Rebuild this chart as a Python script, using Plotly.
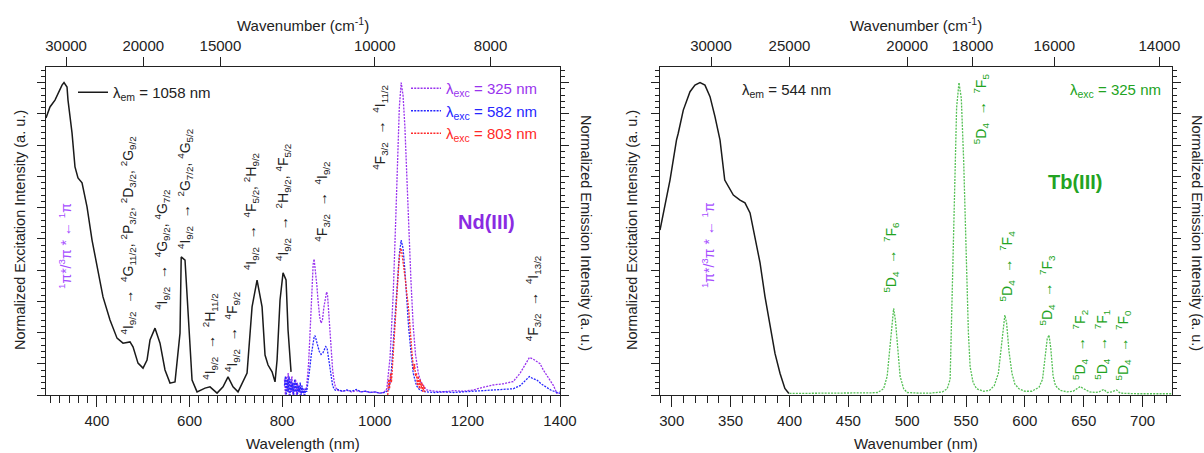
import plotly.graph_objects as go

# ---- Nd(III) panel data ----
nd_exc_nm = [290, 298.6, 309.4, 316, 324.6, 328.9, 335.4, 337.5, 341.8, 346.2, 352.6, 359.1, 367.8, 378.6,
             389.4, 400.2, 413.1, 428.2, 443.4, 456.3, 471.4, 477.9, 488.7, 499.5, 508.2, 514.6, 525.4, 536.2,
             547, 557.8, 568.6, 579.4, 582, 590.2, 596.7, 605.4, 616.2, 633.4, 644.2, 659.4, 672.3, 683.1,
             693.9, 704.7, 724.2, 735, 745.8, 756.6, 763, 769.5, 778.2, 784.6, 789, 795.4, 801.9, 808.4,
             812.7, 817, 819.2]
nd_exc_int = [0.887, 0.922, 0.944, 0.967, 0.992, 1.0, 0.986, 0.944, 0.890, 0.839, 0.730, 0.695, 0.679, 0.602,
              0.496, 0.410, 0.314, 0.240, 0.182, 0.166, 0.170, 0.154, 0.102, 0.086, 0.112, 0.176, 0.214, 0.166,
              0.080, 0.038, 0.042, 0.198, 0.442, 0.432, 0.250, 0.048, 0.010, 0.022, 0.026, 0.006, 0.026, 0.058,
              0.026, 0.010, 0.070, 0.282, 0.368, 0.282, 0.128, 0.096, 0.074, 0.042, 0.112, 0.304, 0.391, 0.368,
              0.208, 0.096, 0.074]

nd_em325_nm = [805, 807, 809, 811, 813, 815, 817, 819, 821, 823, 825, 827, 829, 831, 833, 835, 837, 839, 841,
               843, 845, 847, 849, 851, 853, 855, 857, 859, 861, 863, 865, 867, 869, 871, 873, 875, 877, 879,
               881, 884, 887, 890, 893, 896, 898, 900, 903, 906, 909, 912, 915, 920, 930, 940, 950, 960, 970,
               980, 990, 1000, 1010, 1020, 1026, 1033, 1040, 1045, 1049, 1053, 1057, 1061, 1065, 1069, 1073,
               1078, 1083, 1088, 1094, 1100, 1112, 1130, 1150, 1170, 1190, 1212, 1235, 1255, 1278, 1299, 1314,
               1325, 1334, 1342, 1350, 1357, 1364, 1371, 1379, 1386, 1393, 1400]
nd_em325_int = [0.05, 0.0, 0.06, 0.01, 0.07, 0.0, 0.05, 0.01, 0.06, 0.0, 0.04, 0.01, 0.05, 0.0, 0.04, 0.01,
                0.03, 0.0, 0.03, 0.005, 0.02, 0.0, 0.02, 0.01, 0.03, 0.06, 0.10, 0.16, 0.24, 0.32, 0.39, 0.42,
                0.435, 0.41, 0.38, 0.35, 0.31, 0.28, 0.25, 0.23, 0.24, 0.28, 0.31, 0.33, 0.32, 0.27, 0.20, 0.14,
                0.08, 0.045, 0.025, 0.015, 0.012, 0.015, 0.01, 0.014, 0.01, 0.012, 0.008, 0.01, 0.006, 0.008,
                0.02, 0.12, 0.33, 0.55, 0.75, 0.92, 1.0, 0.96, 0.86, 0.70, 0.54, 0.37, 0.22, 0.13, 0.07, 0.04,
                0.016, 0.012, 0.01, 0.014, 0.012, 0.016, 0.025, 0.032, 0.036, 0.043, 0.07, 0.10, 0.12, 0.115,
                0.107, 0.10, 0.08, 0.065, 0.048, 0.03, 0.006, 0.01]

nd_em582_nm = [805, 807, 809, 811, 813, 815, 817, 819, 821, 823, 825, 827, 829, 831, 833, 835, 837, 839, 841,
               843, 845, 847, 849, 851, 853, 855, 857, 860, 863, 866, 869, 871, 874, 877, 880, 884, 888, 891,
               894, 897, 900, 903, 906, 909, 912, 915, 920, 930, 940, 950, 960, 970, 980, 990, 1000, 1010, 1020,
               1030, 1035, 1040, 1045, 1049, 1053, 1057, 1061, 1065, 1069, 1073, 1078, 1083, 1090, 1097, 1110,
               1130, 1150, 1170, 1190, 1212, 1235, 1255, 1278, 1299, 1314, 1325, 1334, 1342, 1350, 1360, 1370,
               1380, 1390, 1400]
nd_em582_int = [0.03, 0.06, 0.0, 0.05, 0.01, 0.06, 0.0, 0.05, 0.01, 0.04, 0.0, 0.05, 0.01, 0.04, 0.0, 0.03,
                0.01, 0.04, 0.0, 0.03, 0.005, 0.02, 0.0, 0.02, 0.01, 0.03, 0.05, 0.09, 0.13, 0.16, 0.185, 0.19,
                0.17, 0.15, 0.14, 0.13, 0.135, 0.145, 0.155, 0.15, 0.12, 0.08, 0.05, 0.03, 0.02, 0.015, 0.018,
                0.012, 0.016, 0.012, 0.018, 0.01, 0.012, 0.008, 0.01, 0.006, 0.008, 0.015, 0.06, 0.165, 0.29,
                0.38, 0.45, 0.496, 0.47, 0.40, 0.30, 0.219, 0.14, 0.07, 0.03, 0.016, 0.01, 0.008, 0.01, 0.008,
                0.01, 0.012, 0.015, 0.016, 0.018, 0.02, 0.03, 0.045, 0.059, 0.052, 0.048, 0.035, 0.025, 0.016,
                0.01, 0.005]

nd_em803_nm = [1028, 1030, 1032, 1034, 1036, 1038, 1040, 1042, 1044, 1046, 1048, 1050, 1052, 1054, 1056, 1058,
               1060, 1062, 1064, 1066, 1068, 1070, 1072, 1074, 1076, 1078, 1080, 1082, 1084, 1086, 1088, 1090,
               1092, 1094, 1096, 1098, 1100, 1102, 1104, 1106, 1108]
nd_em803_int = [0.0, 0.05, 0.02, 0.07, 0.04, 0.09, 0.12, 0.18, 0.22, 0.27, 0.33, 0.38, 0.42, 0.45, 0.47, 0.46,
                0.44, 0.41, 0.39, 0.37, 0.34, 0.32, 0.29, 0.26, 0.21, 0.17, 0.14, 0.11, 0.08, 0.10, 0.06, 0.07,
                0.03, 0.06, 0.02, 0.05, 0.02, 0.04, 0.01, 0.03, 0.01]

# ---- Tb(III) panel data ----
tb_exc_nm = [290, 294, 298.5, 304, 305.5, 309.8, 315.5, 319.7, 324, 328.2, 332.5, 336.7, 341, 345, 348, 352.3,
             358, 362.2, 366.5, 370.7, 375, 379.2, 383.5, 387.7, 392, 396.1, 399.5]
tb_exc_int = [0.528, 0.603, 0.688, 0.816, 0.838, 0.912, 0.971, 0.992, 1.0, 0.992, 0.955, 0.891, 0.816, 0.688,
              0.667, 0.640, 0.624, 0.615, 0.583, 0.507, 0.423, 0.315, 0.219, 0.133, 0.069, 0.021, 0.005]

tb_em_nm = [400, 420, 440, 460, 470, 475, 480, 483, 485, 487, 488.5, 490, 492, 494, 497, 500, 510, 520, 530,
            534, 536.5, 539, 540.5, 542, 544, 546, 548, 549, 550.5, 552, 553.5, 556, 559, 565, 570, 574, 577.5,
            580, 582, 583, 584.5, 586.5, 589, 591.5, 595, 600, 606, 612, 615, 617.5, 619, 620.5, 622, 624,
            626, 630, 636, 641, 644, 647, 650, 655, 660, 663, 667, 670, 674, 678, 681, 686, 695, 710, 725]
tb_em_int = [0.005, 0.005, 0.006, 0.006, 0.007, 0.008, 0.02, 0.06, 0.14, 0.24, 0.277, 0.24, 0.14, 0.06, 0.02,
             0.008, 0.006, 0.006, 0.01, 0.02, 0.05, 0.475, 0.69, 0.92, 1.0, 0.95, 0.75, 0.62, 0.42, 0.2, 0.09,
             0.04, 0.02, 0.012, 0.015, 0.03, 0.07, 0.16, 0.24, 0.256, 0.23, 0.14, 0.07, 0.035, 0.02, 0.012,
             0.012, 0.025, 0.05, 0.12, 0.18, 0.192, 0.15, 0.06, 0.03, 0.015, 0.01, 0.012, 0.02, 0.027, 0.02,
             0.01, 0.008, 0.01, 0.018, 0.008, 0.01, 0.016, 0.006, 0.005, 0.004, 0.004, 0.004]

nd_top_wn = [30000, 20000, 15000, 10000, 8000]
tb_top_wn = [30000, 25000, 20000, 18000, 16000, 14000]

PURPLE = "#9933ee"
BLUE = "#2626ff"
RED = "#ff2a2a"
GREEN_TXT = "#22a322"
GREEN_LINE = "#55c055"
FONT = "Liberation Sans, Arial, sans-serif"
W, H = 1204, 453


def px(x):
    return x / W


def py(y):
    return 1 - y / H


fig = go.Figure()
dot = "2px,1.2px"

fig.add_trace(go.Scatter(x=nd_exc_nm, y=nd_exc_int, mode="lines", line=dict(color="#1a1a1a", width=1.5),
                         name="λ<sub>em</sub> = 1058 nm", legend="legend", xaxis="x", yaxis="y"))
fig.add_trace(go.Scatter(x=nd_em325_nm, y=nd_em325_int, mode="lines", line=dict(color=PURPLE, width=1.3, dash=dot),
                         name=f"<span style='color:{PURPLE}'>λ<sub>exc</sub> = 325 nm</span>",
                         legend="legend2", xaxis="x", yaxis="y2"))
fig.add_trace(go.Scatter(x=nd_em582_nm, y=nd_em582_int, mode="lines", line=dict(color=BLUE, width=1.3, dash=dot),
                         name=f"<span style='color:{BLUE}'>λ<sub>exc</sub> = 582 nm</span>",
                         legend="legend2", xaxis="x", yaxis="y2"))
fig.add_trace(go.Scatter(x=nd_em803_nm, y=nd_em803_int, mode="lines", line=dict(color=RED, width=1.3, dash=dot),
                         name=f"<span style='color:{RED}'>λ<sub>exc</sub> = 803 nm</span>",
                         legend="legend2", xaxis="x", yaxis="y2"))
fig.add_trace(go.Scatter(x=tb_exc_nm, y=tb_exc_int, mode="lines", line=dict(color="#1a1a1a", width=1.5),
                         showlegend=False, xaxis="x3", yaxis="y3"))
fig.add_trace(go.Scatter(x=tb_em_nm, y=tb_em_int, mode="lines", line=dict(color=GREEN_LINE, width=1.3, dash=dot),
                         showlegend=False, xaxis="x3", yaxis="y4"))
# invisible copies so the top (wavenumber) axes get drawn
fig.add_trace(go.Scatter(x=nd_exc_nm, y=nd_exc_int, mode="lines", opacity=0, hoverinfo="skip",
                         showlegend=False, xaxis="x2", yaxis="y"))
fig.add_trace(go.Scatter(x=tb_exc_nm, y=tb_exc_int, mode="lines", opacity=0, hoverinfo="skip",
                         showlegend=False, xaxis="x4", yaxis="y3"))

tickfont = dict(family=FONT, size=15, color="#222")
common = dict(showline=True, linecolor="#222", linewidth=1.3, ticks="outside", tickcolor="#222",
              showgrid=False, zeroline=False, tickfont=tickfont, automargin=False)
ycommon = dict(common, range=[0, 1.05], tick0=0, dtick=0.1, ticklen=8, showticklabels=False,
               minor=dict(ticks="outside", dtick=0.02, ticklen=4, tickcolor="#222"))

dom_l = [px(46), px(560)]
dom_r = [px(660), px(1172)]
dom_y = [py(395), py(67)]

fig.update_layout(
    width=W, height=H, autosize=False, margin=dict(l=0, r=0, t=0, b=0, pad=0, autoexpand=False),
    paper_bgcolor="white", plot_bgcolor="white",
    font=dict(family=FONT, size=15, color="#222"),
    xaxis=dict(common, domain=dom_l, range=[290, 1400], anchor="y", tick0=0, dtick=200, ticklen=11,
               ticklabelstandoff=1, minor=dict(ticks="outside", dtick=20, ticklen=7, tickcolor="#222")),
    xaxis2=dict(common, overlaying="x", side="top", anchor="y", range=[290, 1400],
                tickvals=[1e7 / w for w in nd_top_wn], ticktext=[str(w) for w in nd_top_wn], ticklen=9),
    yaxis=dict(ycommon, domain=dom_y, anchor="x"),
    yaxis2=dict(ycommon, overlaying="y", side="right", anchor="x"),
    xaxis3=dict(common, domain=dom_r, range=[290, 725], anchor="y3", tick0=0, dtick=50, ticklen=11,
                ticklabelstandoff=1, minor=dict(ticks="outside", dtick=10, ticklen=7, tickcolor="#222")),
    xaxis4=dict(common, overlaying="x3", side="top", anchor="y3", range=[290, 725],
                tickvals=[1e7 / w for w in tb_top_wn], ticktext=[str(w) for w in tb_top_wn], ticklen=9),
    yaxis3=dict(ycommon, domain=dom_y, anchor="x3"),
    yaxis4=dict(ycommon, overlaying="y3", side="right", anchor="x3"),
    legend=dict(x=px(73), y=py(76), xanchor="left", yanchor="top", bgcolor="rgba(0,0,0,0)",
                font=dict(family=FONT, size=15, color="#222")),
    legend2=dict(x=px(406), y=py(72), xanchor="left", yanchor="top", bgcolor="rgba(0,0,0,0)",
                 font=dict(family=FONT, size=15), tracegroupgap=0),
)

ann = []


def lab(x, y, text, xr="x", yr="y", color="#222", size=14, angle=-90):
    ann.append(dict(x=x, y=y, xref=xr, yref=yr, text=text, showarrow=False, textangle=angle,
                    font=dict(family=FONT, size=size, color=color), xanchor="center", yanchor="middle"))


def s(n, sym, j):
    return f"<sup>{n}</sup>{sym}<sub>{j}</sub>"


AR = "  →  "
I92 = s(4, "I", "9/2")
F32 = s(4, "F", "3/2")
PI_TXT = "<sup>1</sup>π*/<sup>3</sup>π * ← <sup>1</sup>π"

# Nd(III) transition labels
lab(331, 0.477, PI_TXT, color="#a64dff")
lab(468, 0.512, I92 + AR + s(4, "G", "11/2") + ", " + s(2, "P", "3/2") + ", " + s(2, "D", "3/2") + ", " + s(2, "G", "9/2"))
lab(540, 0.464, I92 + AR + s(4, "G", "9/2") + ", " + s(4, "G", "7/2"))
lab(590, 0.659, I92 + AR + s(2, "G", "7/2") + ", " + s(4, "G", "5/2"))
lab(644, 0.186, I92 + AR + s(2, "H", "11/2"))
lab(692, 0.202, I92 + AR + s(4, "F", "9/2"))
lab(733, 0.586, I92 + AR + s(4, "F", "5/2") + ", " + s(2, "H", "9/2"))
lab(802, 0.615, I92 + AR + s(2, "H", "9/2") + ", " + s(4, "F", "5/2"))
lab(886, 0.619, F32 + AR + s(4, "I", "9/2"))
lab(1011, 0.858, F32 + AR + s(4, "I", "11/2"))
lab(1342, 0.310, F32 + AR + s(4, "I", "13/2"))
ann.append(dict(x=1242, y=0.554, xref="x", yref="y", text="<b>Nd(III)</b>", showarrow=False,
                xanchor="center", yanchor="middle", font=dict(family=FONT, size=20, color="#8a2be2")))

# Tb(III) transition labels
D4 = s(5, "D", "4")
lab(330.8, 0.480, PI_TXT, xr="x3", yr="y3", color="#a64dff")
for xv, yv, j in [(486, 0.442, 6), (563, 0.916, 5), (585.2, 0.413, 4), (619.2, 0.336, 3),
                  (646.8, 0.160, 2), (665.3, 0.160, 1), (683.8, 0.160, 0)]:
    lab(xv, yv, D4 + AR + s(7, "F", j), xr="x3", yr="y3", color=GREEN_TXT)
ann.append(dict(x=642.6, y=0.682, xref="x3", yref="y3", text="<b>Tb(III)</b>", showarrow=False,
                xanchor="center", yanchor="middle", font=dict(family=FONT, size=20, color=GREEN_TXT)))
ann.append(dict(x=358, y=0.975, xref="x3", yref="y3", text="λ<sub>em</sub> = 544 nm", showarrow=False,
                xanchor="left", yanchor="middle", font=dict(family=FONT, size=15, color="#222")))
ann.append(dict(x=717.4, y=0.975, xref="x3", yref="y3", text="λ<sub>exc</sub> = 325 nm", showarrow=False,
                xanchor="right", yanchor="middle", font=dict(family=FONT, size=15, color=GREEN_TXT)))

# axis titles
tf = dict(family=FONT, size=15, color="#222")
tfy = dict(family=FONT, size=14.5, color="#222")


def title(xc, yc, text, angle=0, font=tf):
    ann.append(dict(x=px(xc), y=py(yc), xref="paper", yref="paper", text=text, showarrow=False,
                    textangle=angle, xanchor="center", yanchor="middle", font=font))


for xc in (303, 916):
    title(xc, 24, "Wavenumber (cm<sup>-1</sup>)")
title(303, 443, "Wavelength (nm)")
title(916, 443, "Wavenumber (nm)")
for xc in (20, 632):
    title(xc, 230, "Normalized Excitation Intensity (a. u.)", -90, tfy)
for xc in (586, 1197):
    title(xc, 233, "Normalized Emission Intensity (a. u.)", 90, tfy)

fig.update_layout(annotations=ann)
fig.write_html(
    "out.html",
    config={"displayModeBar": False},
    post_script="document.body.style.margin='0';document.body.style.overflow='hidden';"
                "document.documentElement.style.overflow='hidden';",
)
